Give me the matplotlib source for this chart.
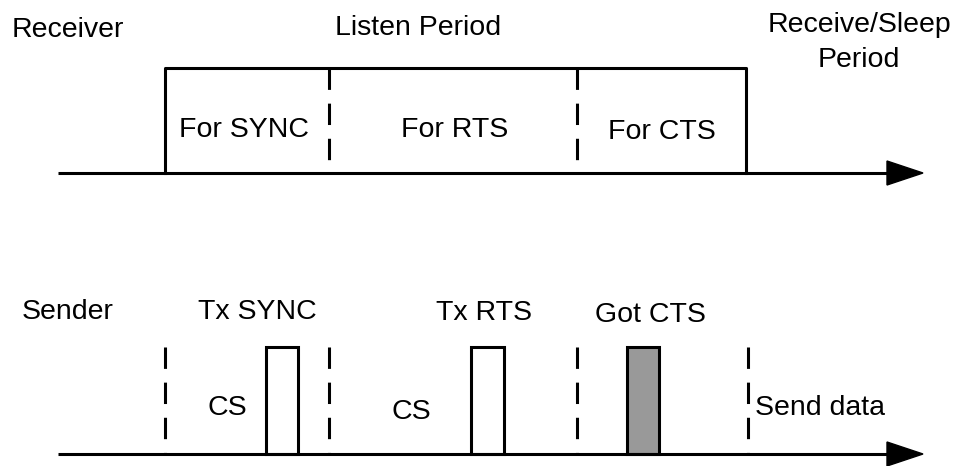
import matplotlib
matplotlib.use('Agg')
import matplotlib.pyplot as plt
from matplotlib.patches import Rectangle

#Timeline layout (pixel units of the 960x466 picture)
axis_start = 58
axis_end = 923
rx_axis_y = 173
tx_axis_y = 454

#Receiver listen period: box edges and dashed split lines
listen_edges = [165, 746]
listen_top = 68
listen_splits = [329, 577]
listen_labels = ['For SYNC', 'For RTS', 'For CTS']
listen_label_x = [244, 455, 662]
listen_label_y = [130, 130, 132]

#Sender: dashed slot marks and packets
sender_marks = [165, 329, 577, 748]
sender_mark_top = 347
packets_left = [266, 471, 627]
packets_right = [298, 504, 659]
packets_top = 347
packets_fill = ['white', 'white', '#999999']
packet_labels = ['Tx SYNC', 'Tx RTS', 'Got CTS']
packet_label_x = [257, 484, 650]
packet_label_y = [312, 313, 315]
cs_x = [227, 411]
cs_y = [408, 412]

plt.rcParams['font.family'] = ['Liberation Sans', 'DejaVu Sans']
fs = 20.5
lw = 2.2
dash = (0, (7, 4.5))

fig = plt.figure(figsize=(9.6, 4.66), dpi=100)
ax = fig.add_axes([0, 0, 1, 1])
ax.set_xlim(0, 960)
ax.set_ylim(466, 0)
ax.axis('off')

def time_axis(y):
    ax.plot([axis_start, axis_end - 34], [y, y], color='black', lw=lw, solid_capstyle='butt')
    ax.fill([axis_end - 36, axis_end, axis_end - 36], [y - 12, y, y + 12], color='black')

#Receiver
time_axis(rx_axis_y)
ax.plot([listen_edges[0], listen_edges[0], listen_edges[1], listen_edges[1]],
        [rx_axis_y, listen_top, listen_top, rx_axis_y], color='black', lw=lw)
for x in listen_splits:
    ax.plot([x, x], [listen_top, rx_axis_y], color='black', lw=lw, linestyle=dash)
for lab, x, y in zip(listen_labels, listen_label_x, listen_label_y):
    ax.text(x, y, lab, fontsize=fs, ha='center', va='center')
ax.text(12, 30, 'Receiver', fontsize=fs, ha='left', va='center')
ax.text(418, 28, 'Listen Period', fontsize=fs, ha='center', va='center')
ax.text(859, 25, 'Receive/Sleep', fontsize=fs, ha='center', va='center')
ax.text(859, 60, 'Period', fontsize=fs, ha='center', va='center')

#Sender
time_axis(tx_axis_y)
for x in sender_marks:
    ax.plot([x, x], [sender_mark_top, tx_axis_y], color='black', lw=lw, linestyle=dash)
for l, r, c in zip(packets_left, packets_right, packets_fill):
    ax.add_patch(Rectangle((l, packets_top), r - l, tx_axis_y - packets_top,
                           facecolor=c, edgecolor='black', lw=lw))
for lab, x, y in zip(packet_labels, packet_label_x, packet_label_y):
    ax.text(x, y, lab, fontsize=fs, ha='center', va='center')
for x, y in zip(cs_x, cs_y):
    ax.text(x, y, 'CS', fontsize=fs, ha='center', va='center')
ax.text(22, 312, 'Sender', fontsize=fs, ha='left', va='center')
ax.text(755, 408, 'Send data', fontsize=fs, ha='left', va='center')

plt.savefig('out.png', dpi=100)
